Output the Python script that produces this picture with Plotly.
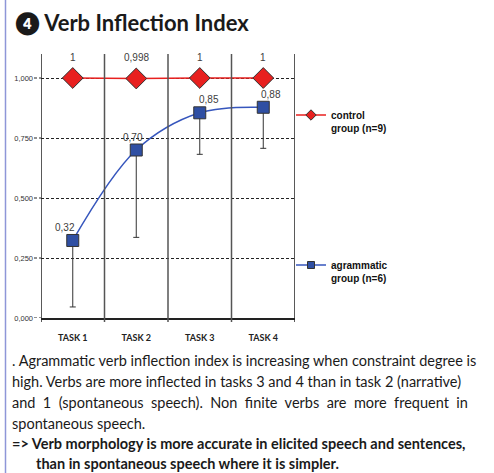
import plotly.graph_objects as go

# ---- data ----
tasks = ["TASK 1", "TASK 2", "TASK 3", "TASK 4"]
control = [1.0, 0.998, 1.0, 1.0]
control_labels = ["1", "0,998", "1", "1"]
agram = [0.323, 0.70, 0.855, 0.878]
agram_labels = ["0,32", "0,70", "0,85", "0,88"]
agram_err_minus = [0.277, 0.364, 0.173, 0.171]
y_ticks = [0, 0.25, 0.5, 0.75, 1.0]
y_ticktext = ["0,000", "0,250", "0,500", "0,750", "1,000"]
control_name = "control<br>group (n=9)"
agram_name = "agrammatic<br>group (n=6)"
title_text = "❹ Verb Inflection Index"
body_lines = [
    ". Agrammatic verb inflection index is increasing when constraint degree is",
    "high. Verbs are more inflected in tasks 3 and 4 than in task 2 (narrative)",
    "and 1 (spontaneous speech). Non finite verbs are more frequent in",
    "spontaneous speech.",
]
bold_lines = [
    "=> Verb morphology is more accurate in elicited speech and sentences,",
    "than in spontaneous speech where it is simpler.",
]
# justified look: extra spacing per line
body_extra_space = [0, 0, 1, 0]

W, H = 494, 473
L, R, T, B = 41, 295, 54, 318
PW, PH = R - L, B - T


def px_x(x):
    return (x - L) / PW


def px_y(y):
    return (B - y) / PH


xs = list(range(len(tasks)))

fig = go.Figure()

RED = "#e8201f"
BLUE = "#2f4fa3"
LINEBLUE = "#3656bd"

fig.add_trace(go.Scatter(
    x=xs, y=agram, mode="lines+markers", showlegend=False,
    line=dict(color=LINEBLUE, width=1.5, shape="spline", smoothing=1.0),
    marker=dict(symbol="square", size=12, color=BLUE,
                line=dict(color="#333333", width=1)),
    error_y=dict(type="data", symmetric=False, array=[0] * len(agram),
                 arrayminus=agram_err_minus, color="#333333",
                 thickness=1, width=3),
))
fig.add_trace(go.Scatter(
    x=xs, y=control, mode="lines+markers", showlegend=False,
    line=dict(color=RED, width=1.5),
    marker=dict(symbol="diamond", size=16, color=RED,
                line=dict(color="#333333", width=1)),
))

# legend entries
fig.add_trace(go.Scatter(
    x=[None], y=[None], mode="lines+markers", name=control_name,
    line=dict(color=RED, width=1.5),
    marker=dict(symbol="diamond", size=8, color=RED,
                line=dict(color="#333333", width=1)),
    legend="legend",
))
fig.add_trace(go.Scatter(
    x=[None], y=[None], mode="lines+markers", name=agram_name,
    line=dict(color=LINEBLUE, width=1.5),
    marker=dict(symbol="square", size=7, color=BLUE,
                line=dict(color="#333333", width=1)),
    legend="legend2",
))

ann = []
for i, (v, t) in enumerate(zip(control, control_labels)):
    ann.append(dict(x=i, y=v, text=t, showarrow=False, yshift=21,
                    font=dict(family="Liberation Sans", size=10, color="#404040")))
agram_xshift = [-8, -3, 9, 8]
for i, (v, t) in enumerate(zip(agram, agram_labels)):
    ann.append(dict(x=i, y=v, text=t, showarrow=False, yshift=13,
                    xshift=agram_xshift[i],
                    font=dict(family="Liberation Sans", size=10, color="#404040")))

body_y = [360, 381, 402, 423]
for t, y, ex in zip(body_lines, body_y, body_extra_space):
    if ex:
        t = t.replace(" ", " " + "\u00a0" * ex)
    ann.append(dict(xref="paper", yref="paper", x=px_x(10), y=px_y(y),
                    xanchor="left", yanchor="middle", text=t, showarrow=False,
                    font=dict(family="Lato", size=14.5, color="#1a1a1a")))
bold_y = [443, 463]
bold_x = [10, 34]
for t, y, x in zip(bold_lines, bold_y, bold_x):
    ann.append(dict(xref="paper", yref="paper", x=px_x(x), y=px_y(y),
                    xanchor="left", yanchor="middle", text="<b>" + t + "</b>",
                    showarrow=False,
                    font=dict(family="Lato", size=14.5, color="#1a1a1a")))

shapes = []
# vertical separators
for k in range(len(tasks) + 1):
    xv = k - 0.5
    edge = k == 0 or k == len(tasks)
    shapes.append(dict(type="line", xref="x", yref="paper", x0=xv, x1=xv,
                       y0=-4 / PH, y1=1,
                       line=dict(color="#222222" if edge else "#555555",
                                 width=1.5)))
# dashed tick extensions left of axis
for yv in y_ticks:
    shapes.append(dict(type="line", xref="paper", yref="y", x0=-7 / PW, x1=0,
                       y0=yv, y1=yv, line=dict(color="#222222", width=1,
                                               dash="3px,2px")))
# page left border
shapes.append(dict(type="line", xref="paper", yref="paper",
                   x0=px_x(5.5), x1=px_x(5.5), y0=px_y(0), y1=px_y(H),
                   line=dict(color="#8e96d8", width=1.5)))

fig.update_layout(
    width=W, height=H,
    margin=dict(l=L, r=W - R, t=T, b=H - B),
    paper_bgcolor="white", plot_bgcolor="white",
    title=dict(text="<b>" + title_text + "</b>", xref="container",
               yref="container", x=15 / W, xanchor="left",
               y=1 - 23 / H, yanchor="middle",
               font=dict(family="Lato", size=22, color="#1a1a1a")),
    xaxis=dict(range=[-0.5, len(tasks) - 0.5], tickvals=xs, ticktext=tasks,
               showgrid=False, zeroline=False, showline=True,
               linecolor="#222222", linewidth=1.5, ticks="",
               ticklabelstandoff=10,
               tickfont=dict(family="Lato", size=9, color="#222222",
                             weight="bold"),
               fixedrange=True),
    yaxis=dict(range=[0, 1.1], tickvals=y_ticks, ticktext=y_ticktext,
               showgrid=True, gridcolor="#222222", gridwidth=1,
               griddash="3px,2px", zeroline=False, showline=False,
               ticks="", ticklabelstandoff=7,
               tickfont=dict(family="Liberation Sans", size=7.5,
                             color="#333333"),
               fixedrange=True),
    legend=dict(x=px_x(291), y=px_y(102), xanchor="left", yanchor="top",
                valign="top", bgcolor="rgba(0,0,0,0)",
                font=dict(family="Liberation Sans", size=10, color="#111111",
                          weight="bold")),
    legend2=dict(x=px_x(291), y=px_y(252), xanchor="left", yanchor="top",
                 valign="top", bgcolor="rgba(0,0,0,0)",
                 font=dict(family="Liberation Sans", size=10, color="#111111",
                           weight="bold")),
    annotations=ann,
    shapes=shapes,
)

fig.write_html(
    "out.html",
    config={"displayModeBar": False},
    post_script="document.body.style.margin='0';document.body.style.padding='0';",
)
